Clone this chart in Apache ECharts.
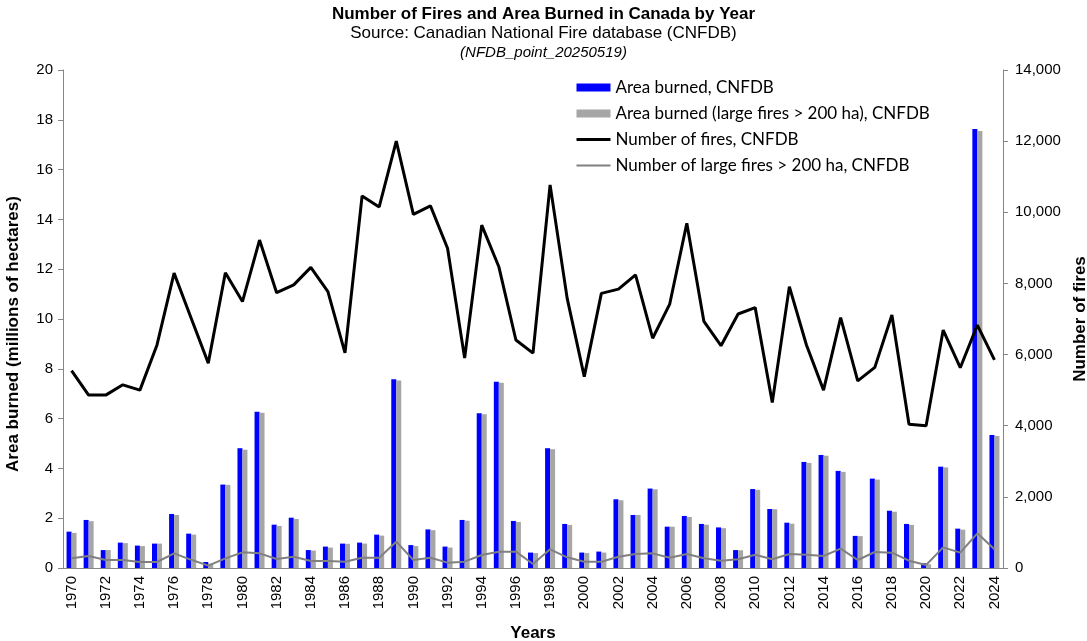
<!DOCTYPE html>
<html>
<head>
<meta charset="utf-8">
<script src="https://cdn.jsdelivr.net/npm/echarts@6/dist/echarts.min.js"></script>
<style>
  html, body { margin: 0; padding: 0; background: #fff; }
  #main { width: 1087px; height: 641px; }
</style>
</head>
<body>
<div id="main"></div>
<script>
// years on the x axis
var years = [];
for (var y = 1970; y <= 2024; y++) years.push(String(y));

// area burned, millions of hectares
var areaBurned = [1.46, 1.93, 0.72, 1.02, 0.90, 0.98, 2.17, 1.38, 0.24, 3.35,
  4.81, 6.28, 1.74, 2.02, 0.72, 0.86, 0.98, 1.02, 1.34, 7.58,
  0.92, 1.55, 0.86, 1.93, 6.21, 7.48, 1.89, 0.62, 4.81, 1.77,
  0.62, 0.66, 2.76, 2.13, 3.19, 1.66, 2.09, 1.77, 1.63, 0.72,
  3.17, 2.37, 1.82, 4.26, 4.54, 3.90, 1.29, 3.59, 2.30, 1.77,
  0.19, 4.07, 1.58, 17.63, 5.34];

// area burned by large fires (> 200 ha)
var areaLarge = [1.41, 1.88, 0.72, 1.00, 0.88, 0.98, 2.13, 1.34, 0.18, 3.34,
  4.75, 6.23, 1.69, 1.97, 0.70, 0.82, 0.97, 0.98, 1.30, 7.53,
  0.88, 1.52, 0.82, 1.90, 6.17, 7.44, 1.85, 0.60, 4.77, 1.73,
  0.60, 0.62, 2.72, 2.13, 3.16, 1.66, 2.05, 1.74, 1.60, 0.71,
  3.14, 2.36, 1.78, 4.22, 4.51, 3.86, 1.28, 3.55, 2.26, 1.73,
  0.15, 4.04, 1.54, 17.55, 5.30];

// number of fires
var fires = [5550, 4860, 4860, 5150, 5000, 6270, 8290, 7020, 5760, 8300,
  7490, 9220, 7740, 7960, 8450, 7770, 6050, 10460, 10150, 12000,
  9940, 10180, 8990, 5900, 9640, 8470, 6410, 6040, 10770, 7580,
  5380, 7720, 7840, 8240, 6460, 7420, 9690, 6930, 6250, 7140,
  7320, 4650, 7910, 6270, 5000, 7040, 5260, 5640, 7110, 4040,
  4000, 6690, 5630, 6830, 5850];

// number of large fires (> 200 ha)
var firesLarge = [272, 337, 225, 225, 169, 169, 412, 230, 66, 272,
  440, 412, 253, 318, 197, 197, 178, 290, 290, 740,
  225, 290, 150, 178, 365, 459, 459, 112, 525, 300,
  178, 178, 318, 394, 412, 290, 394, 272, 206, 244,
  375, 244, 394, 375, 337, 544, 225, 450, 431, 206,
  84, 581, 431, 975, 525];

var axisFont = "Liberation Sans";
var axisColor = "#868686";
var nameStyle = { fontFamily: axisFont, fontSize: 17, fontWeight: "bold", color: "#000" };

var chart = echarts.init(document.getElementById("main"));
chart.setOption({
  animation: false,
  title: [
    {
      text: "Number of Fires and Area Burned in Canada by Year",
      left: "center", top: 1,
      textStyle: { fontFamily: axisFont, fontSize: 17, fontWeight: "bold", color: "#000" }
    },
    {
      text: "Source: Canadian National Fire database (CNFDB)",
      left: "center", top: 20,
      textStyle: { fontFamily: axisFont, fontSize: 17, fontWeight: "normal", color: "#000" }
    },
    {
      text: "(NFDB_point_20250519)",
      left: "center", top: 40,
      textStyle: { fontFamily: axisFont, fontSize: 15, fontWeight: "normal", fontStyle: "italic", color: "#000" }
    }
  ],
  legend: {
    orient: "vertical",
    left: 575, top: 79,
    padding: 0,
    itemWidth: 34, itemHeight: 8, itemGap: 9,
    textStyle: { fontFamily: "Lato", fontSize: 17, lineHeight: 17, color: "#000" },
    data: [
      { name: "Area burned, CNFDB", icon: "rect" },
      { name: "Area burned (large fires > 200 ha), CNFDB", icon: "rect" },
      { name: "Number of fires, CNFDB", itemStyle: { opacity: 0 }, lineStyle: { width: 3 } },
      { name: "Number of large fires > 200 ha, CNFDB", itemStyle: { opacity: 0 }, lineStyle: { width: 2 } }
    ]
  },
  grid: { left: 63, right: 84, top: 70, bottom: 73, outerBoundsMode: "none" },
  xAxis: {
    type: "category",
    data: years,
    boundaryGap: true,
    name: "Years",
    nameLocation: "middle",
    nameGap: 57,
    nameTextStyle: nameStyle,
    axisLine: { lineStyle: { color: axisColor } },
    axisTick: { interval: 1, length: 5, lineStyle: { color: axisColor } },
    axisLabel: { interval: 1, rotate: 90, fontFamily: axisFont, fontSize: 15, color: "#000", margin: 8 }
  },
  yAxis: [
    {
      type: "value",
      min: 0, max: 20, interval: 2,
      name: "Area burned (millions of hectares)",
      nameLocation: "middle",
      nameGap: 41,
      nameTextStyle: Object.assign({ padding: [0, 30, 0, 0] }, nameStyle),
      axisLine: { show: true, lineStyle: { color: axisColor } },
      axisTick: { show: true, length: 5, lineStyle: { color: axisColor } },
      splitLine: { show: false },
      axisLabel: { fontFamily: axisFont, fontSize: 15, color: "#000", margin: 10 }
    },
    {
      type: "value",
      min: 0, max: 14000, interval: 2000,
      name: "Number of fires",
      nameLocation: "middle",
      nameGap: 64,
      nameRotate: 90,
      nameTextStyle: nameStyle,
      axisLine: { show: true, lineStyle: { color: axisColor } },
      axisTick: { show: true, length: 5, lineStyle: { color: axisColor } },
      splitLine: { show: false },
      axisLabel: {
        fontFamily: axisFont, fontSize: 15, color: "#000", margin: 12,
        formatter: function (v) { return v.toLocaleString("en-US"); }
      }
    }
  ],
  series: [
    {
      name: "Area burned, CNFDB",
      type: "bar",
      yAxisIndex: 0,
      barWidth: 5,
      barGap: "0%",
      itemStyle: { color: "#0000ff" },
      data: areaBurned
    },
    {
      name: "Area burned (large fires > 200 ha), CNFDB",
      type: "bar",
      yAxisIndex: 0,
      barWidth: 5,
      itemStyle: { color: "#a6a6a6" },
      data: areaLarge
    },
    {
      name: "Number of fires, CNFDB",
      type: "line",
      yAxisIndex: 1,
      symbol: "none",
      z: 4,
      lineStyle: { color: "#000", width: 3 },
      itemStyle: { color: "#000" },
      data: fires
    },
    {
      name: "Number of large fires > 200 ha, CNFDB",
      type: "line",
      yAxisIndex: 1,
      symbol: "none",
      z: 3,
      lineStyle: { color: "#808080", width: 2 },
      itemStyle: { color: "#808080" },
      data: firesLarge
    }
  ]
});
</script>
</body>
</html>
